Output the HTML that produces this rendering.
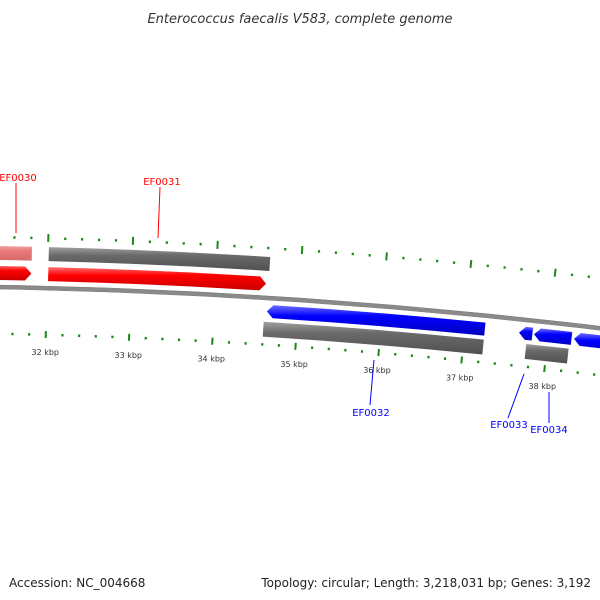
<!DOCTYPE html>
<html><head><meta charset="utf-8"><style>
body{margin:0;background:#fff;}
svg{display:block;font-family:"DejaVu Sans","Liberation Sans",sans-serif;}
</style></head><body>
<svg id="chart" width="600" height="600" viewBox="0 0 600 600" xmlns="http://www.w3.org/2000/svg">
<defs>
<linearGradient id="gRed" x1="0" y1="0" x2="0" y2="1"><stop offset="0" stop-color="#ff7070"/><stop offset="0.35" stop-color="#ff0000"/><stop offset="1" stop-color="#c80000"/></linearGradient>
<linearGradient id="gBlue" x1="0" y1="0" x2="0" y2="1"><stop offset="0" stop-color="#7070ff"/><stop offset="0.35" stop-color="#0000ff"/><stop offset="1" stop-color="#0000c0"/></linearGradient>
<linearGradient id="gGray" x1="0" y1="0" x2="0" y2="1"><stop offset="0" stop-color="#a0a0a0"/><stop offset="0.35" stop-color="#6a6a6a"/><stop offset="1" stop-color="#505050"/></linearGradient>
<linearGradient id="gPink" x1="0" y1="0" x2="0" y2="1"><stop offset="0" stop-color="#f4a8a8"/><stop offset="0.35" stop-color="#e87a7a"/><stop offset="1" stop-color="#d86a6a"/></linearGradient>
</defs>
<text x="300" y="23" text-anchor="middle" font-size="13" font-style="italic" fill="#333">Enterococcus faecalis V583, complete genome</text>
<g id="marks"></g>
<g font-size="10">
<line x1="16" y1="183" x2="16" y2="233" stroke="#f00" stroke-width="1"/>
<text x="18" y="181" text-anchor="middle" fill="#f00">EF0030</text>
<line x1="160" y1="187" x2="158" y2="238" stroke="#f00" stroke-width="1"/>
<text x="162" y="185" text-anchor="middle" fill="#f00">EF0031</text>
<line x1="374" y1="360" x2="370" y2="405" stroke="#00f" stroke-width="1"/>
<text x="371" y="416" text-anchor="middle" fill="#00f">EF0032</text>
<line x1="524" y1="374" x2="508" y2="418" stroke="#00f" stroke-width="1"/>
<text x="509" y="428" text-anchor="middle" fill="#00f">EF0033</text>
<line x1="549" y1="392" x2="549" y2="423" stroke="#00f" stroke-width="1"/>
<text x="549" y="433" text-anchor="middle" fill="#00f">EF0034</text>
</g>
<text x="9" y="587" font-size="12" fill="#222">Accession: NC_004668</text>
<text x="591" y="587" font-size="12" text-anchor="end" fill="#222">Topology: circular; Length: 3,218,031 bp; Genes: 3,192</text>
</svg>
<script>
// data (kbp)
const fwdStarts = [31.0, 32.01];
const fwdEnds   = [31.81, 34.60];
const revStarts = [34.63, 37.65, 37.83, 38.31];
const revEnds   = [37.24, 37.81, 38.28, 39.2];
const topCdsStarts = [31.0, 32.01];
const topCdsEnds   = [31.81, 34.63];
const topCdsHighlight = [true, false];
const botCdsStarts = [34.60, 37.75];
const botCdsEnds   = [37.24, 38.26];
const tickStart = 31.0, tickEnd = 39.0, tickStep = 0.2;
const tickLabels = ["32 kbp","33 kbp","34 kbp","35 kbp","36 kbp","37 kbp","38 kbp"];
const tickLabelPos = [32,33,34,35,36,37,38];

const CX=-110, CY=6286, R0=6000, K=0.014, TH32=0.02617;
const NS="http://www.w3.org/2000/svg";
const g=document.getElementById('marks');
function ang(p){return TH32+(p-32)*K;}
function pt(p,r){const a=ang(p);return [CX+r*Math.sin(a), CY-r*Math.cos(a)];}
function f(q){return q[0].toFixed(2)+','+q[1].toFixed(2);}
function band(p1,p2,r1,r2,dir){
  const h=0.075, rm=(r1+r2)/2;
  let d;
  if(dir===1){const ph=Math.max(p1,p2-h);
    d='M'+f(pt(p1,r2))+' A'+r2+','+r2+' 0 0 1 '+f(pt(ph,r2))+' L'+f(pt(p2,rm))+' L'+f(pt(ph,r1))+' A'+r1+','+r1+' 0 0 0 '+f(pt(p1,r1))+' Z';
  } else if(dir===-1){const ph=Math.min(p2,p1+h);
    d='M'+f(pt(p1,rm))+' L'+f(pt(ph,r2))+' A'+r2+','+r2+' 0 0 1 '+f(pt(p2,r2))+' L'+f(pt(p2,r1))+' A'+r1+','+r1+' 0 0 0 '+f(pt(ph,r1))+' Z';
  } else {
    d='M'+f(pt(p1,r2))+' A'+r2+','+r2+' 0 0 1 '+f(pt(p2,r2))+' L'+f(pt(p2,r1))+' A'+r1+','+r1+' 0 0 0 '+f(pt(p1,r1))+' Z';
  }
  const e=document.createElementNS(NS,'path');e.setAttribute('d',d);return e;
}
// backbone
{const e=band(30.5,39.5,5998,6002,0);e.setAttribute('fill','#8a8a8a');e.setAttribute('stroke','#777');e.setAttribute('stroke-width','0.5');


g.appendChild(e);}
// top CDS row
for(let i=0;i<topCdsStarts.length;i++){const e=band(topCdsStarts[i],topCdsEnds[i],6027,6041,0);
e.setAttribute('fill',topCdsHighlight[i]?'url(#gPink)':'url(#gGray)');


g.appendChild(e);}
// forward genes
for(let i=0;i<fwdStarts.length;i++){const e=band(fwdStarts[i],fwdEnds[i],6007,6021,1);e.setAttribute('fill','url(#gRed)');


g.appendChild(e);}
// reverse genes
for(let i=0;i<revStarts.length;i++){const e=band(revStarts[i],revEnds[i],5980,5993,-1);e.setAttribute('fill','url(#gBlue)');


g.appendChild(e);}
// bottom CDS row
for(let i=0;i<botCdsStarts.length;i++){const e=band(botCdsStarts[i],botCdsEnds[i],5961,5976,0);e.setAttribute('fill','url(#gGray)');


g.appendChild(e);}
// ticks
function tick(p,r1,r2,w){const a=pt(p,r1),b=pt(p,r2);const l=document.createElementNS(NS,'line');
l.setAttribute('x1',a[0]);l.setAttribute('y1',a[1]);l.setAttribute('x2',b[0]);l.setAttribute('y2',b[1]);
l.setAttribute('stroke','#1a8a1a');l.setAttribute('stroke-width',w);return l;}
const n=Math.round((tickEnd-tickStart)/tickStep);
for(let i=0;i<=n;i++){const p=tickStart+i*tickStep;const major=Math.abs(p-Math.round(p))<1e-6;
  const t1=major?tick(p,6046,6054,2):tick(p,6048.5,6051,2.2);
  
  
  g.appendChild(t1);
  const t2=major?tick(p,5950,5957,2):tick(p,5952,5954.5,2.2);
  
  
  g.appendChild(t2);
}
for(let i=0;i<tickLabels.length;i++){const q=pt(tickLabelPos[i],5933);const t=document.createElementNS(NS,'text');
t.setAttribute('x',q[0]);t.setAttribute('y',q[1]);t.setAttribute('text-anchor','middle');t.setAttribute('font-size','8');t.setAttribute('fill','#333');
t.textContent=tickLabels[i];


g.appendChild(t);}
</script>
</body></html>
